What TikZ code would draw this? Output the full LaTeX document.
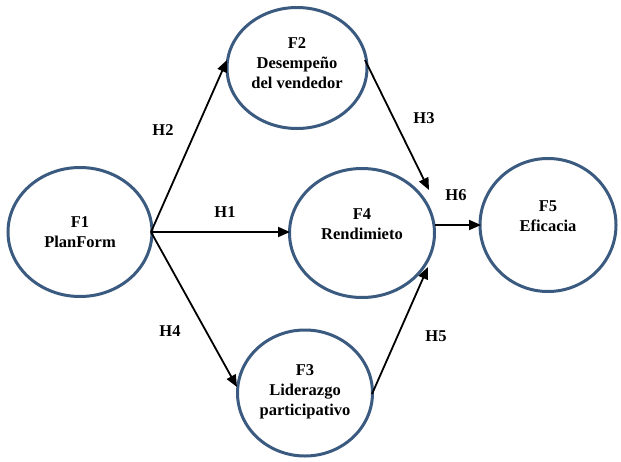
\documentclass[tikz,border=0pt]{standalone}
\usepackage{fontspec}
\setmainfont{Liberation Serif}
\usetikzlibrary{arrows.meta,shapes.geometric}
\definecolor{ellc}{HTML}{3A5A80}
\begin{document}
\begin{tikzpicture}[x=1pt,y=-1pt,
  factor/.style={draw=ellc,line width=3pt,ellipse,inner sep=0pt},
  txt/.style={font=\fontsize{16.5}{20}\selectfont\bfseries,align=center},
  arr/.style={line width=1.8pt,-{Triangle[length=12pt,width=10pt]}},
  lab/.style={font=\fontsize{16.5}{20}\selectfont\bfseries}]
\useasboundingbox (0,0) rectangle (621,461);
\node[factor,minimum width=144pt,minimum height=129pt] (f1) at (80,232) {};
\node[txt] (t1) at (80,232) {F1\\PlanForm};
\node[factor,minimum width=140pt,minimum height=121pt] (f2) at (297,68) {};
\node[txt] (t2) at (297,63) {F2\\Desempeño\\del vendedor};
\node[factor,minimum width=145pt,minimum height=129pt] (f4) at (362,233) {};
\node[txt] (t4) at (362,224) {F4\\Rendimieto};
\node[factor,minimum width=136pt,minimum height=133pt] (f5) at (548,225) {};
\node[txt] (t5) at (548,216) {F5\\Eficacia};
\node[factor,minimum width=135pt,minimum height=126pt] (f3) at (305,393) {};
\node[txt] (t3) at (305,392) {F3\\Liderazgo\\participativo};
\coordinate (o) at (151,232);
\coordinate (h1e) at (290,232);
\coordinate (h2e) at (227,60);
\coordinate (h4e) at (237,387);
\coordinate (h3s) at (365,60);
\coordinate (h3e) at (429,190);
\coordinate (h5s) at (372,394);
\coordinate (h5e) at (428,267);
\coordinate (h6s) at (435,225);
\coordinate (h6e) at (481,225);
\draw[arr] (o) -- (h2e);
\draw[arr] (o) -- (h1e);
\draw[arr] (o) -- (h4e);
\draw[arr] (h3s) -- (h3e);
\draw[arr] (h5s) -- (h5e);
\draw[arr] (h6s) -- (h6e);
\node[lab] (l2) at (163,130) {H2};
\node[lab] (l1) at (225,212) {H1};
\node[lab] (l4) at (170,331) {H4};
\node[lab] (l3) at (424,118) {H3};
\node[lab] (l6) at (456,195) {H6};
\node[lab] (l5) at (436,336) {H5};
\end{tikzpicture}
\end{document}
